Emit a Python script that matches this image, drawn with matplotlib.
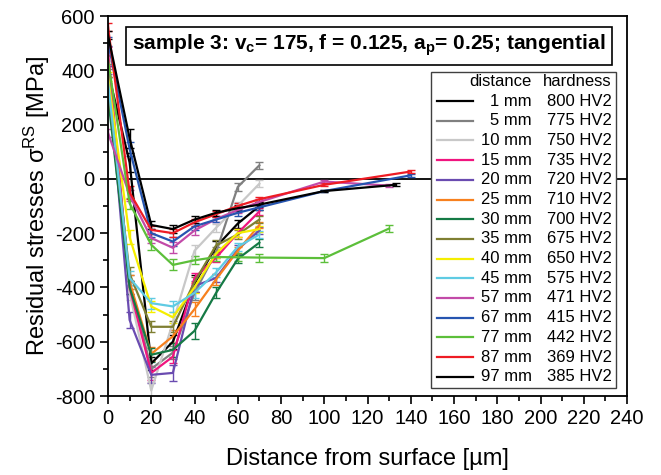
import matplotlib
matplotlib.use("Agg")
import matplotlib.pyplot as plt
from matplotlib.patches import Rectangle
from matplotlib.lines import Line2D
from matplotlib.ticker import MultipleLocator

plt.rcParams.update({
    "font.family": "Liberation Sans",
    "mathtext.fontset": "custom",
    "mathtext.rm": "Liberation Sans",
    "mathtext.bf": "Liberation Sans:bold",
    "mathtext.it": "Liberation Sans:italic",
    "axes.unicode_minus": False,
})

# distance of sample from the end face, and its hardness
distances = ["1 mm", "5 mm", "10 mm", "15 mm", "20 mm", "25 mm", "30 mm", "35 mm",
             "40 mm", "45 mm", "57 mm", "67 mm", "77 mm", "87 mm", "97 mm"]
hardness = ["800 HV2", "775 HV2", "750 HV2", "735 HV2", "720 HV2", "710 HV2", "700 HV2",
            "675 HV2", "650 HV2", "575 HV2", "471 HV2", "415 HV2", "442 HV2", "369 HV2",
            "385 HV2"]

# depth below surface [um]
depth_70 = [0, 10, 20, 30, 40, 50, 60, 70]
depth_57 = [0, 10, 20, 30, 40, 50, 60, 70, 100, 130]
depth_67 = [0, 10, 20, 30, 40, 50, 60, 70, 100, 140]
depth_77 = [0, 10, 20, 30, 40, 50, 60, 70, 100, 130]
depth_87 = [0, 10, 20, 30, 40, 50, 60, 70, 100, 140]
depth_97 = [0, 10, 20, 30, 40, 50, 60, 70, 100, 133]

# residual stress [MPa]
rs_1 = [395, 60, -680, -600, -385, -250, -165, -100]
rs_5 = [420, -380, -700, -640, -420, -270, -30, 50]
rs_10 = [450, -420, -780, -530, -265, -180, -100, -18]
rs_15 = [470, -400, -715, -655, -365, -290, -200, -120]
rs_20 = [400, -520, -722, -715, -395, -365, -260, -190]
rs_25 = [360, -380, -645, -580, -480, -370, -265, -170]
rs_30 = [303, -400, -648, -630, -560, -420, -295, -235]
rs_35 = [340, -350, -545, -545, -380, -245, -205, -150]
rs_40 = [377, -215, -470, -510, -400, -275, -200, -185]
rs_45 = [358, -365, -458, -470, -420, -345, -250, -205]
rs_57 = [170, -60, -218, -254, -190, -148, -115, -85, -10, -25]
rs_67 = [506, 110, -200, -231, -175, -150, -125, -105, -45, 13]
rs_77 = [438, -90, -243, -317, -300, -288, -289, -290, -292, -183]
rs_87 = [561, -50, -188, -200, -160, -130, -100, -75, -22, 27]
rs_97 = [530, 150, -170, -185, -150, -125, -108, -95, -45, -22]

# measurement scatter [MPa]
err_1 = [20, 35, 25, 25, 30, 20, 15, 15]
err_5 = [15, 25, 30, 25, 25, 20, 15, 12]
err_10 = [15, 25, 30, 25, 20, 15, 15, 12]
err_15 = [15, 25, 25, 25, 20, 15, 15, 12]
err_20 = [15, 30, 30, 30, 20, 15, 15, 12]
err_25 = [15, 25, 25, 25, 25, 20, 15, 12]
err_30 = [15, 25, 25, 25, 30, 20, 15, 15]
err_35 = [15, 25, 20, 20, 20, 20, 15, 12]
err_40 = [15, 25, 20, 20, 20, 15, 15, 12]
err_45 = [15, 25, 20, 20, 20, 15, 15, 12]
err_57 = [15, 20, 20, 20, 15, 12, 12, 10, 5, 5]
err_67 = [15, 25, 15, 15, 12, 10, 10, 10, 5, 5]
err_77 = [15, 20, 20, 20, 15, 15, 15, 15, 15, 12]
err_87 = [15, 25, 15, 15, 12, 10, 10, 10, 5, 5]
err_97 = [15, 35, 15, 15, 12, 10, 10, 10, 5, 5]

xs = [depth_70] * 10 + [depth_57, depth_67, depth_77, depth_87, depth_97]
ys = [rs_1, rs_5, rs_10, rs_15, rs_20, rs_25, rs_30, rs_35, rs_40, rs_45,
      rs_57, rs_67, rs_77, rs_87, rs_97]
errs = [err_1, err_5, err_10, err_15, err_20, err_25, err_30, err_35, err_40, err_45,
        err_57, err_67, err_77, err_87, err_97]

colors = ["#000000", "#808080", "#c8c8c8", "#f0157f", "#6a4bb0", "#f7801e", "#157a45",
          "#7f7f32", "#f5ee00", "#5fcbe3", "#c24aa8", "#2655b0", "#5cbf3a", "#ee1c24",
          "#000000"]

fig = plt.figure(figsize=(6.61, 4.75), dpi=100)
ax = fig.add_axes([108 / 661, 1 - 396 / 475, 519 / 661, 380 / 475])

ax.axhline(0, color="black", lw=1.3, zorder=1)

for x, y, e, c in zip(xs, ys, errs, colors):
    ax.errorbar(x, y, yerr=e, color=c, lw=1.6, elinewidth=1.0, capsize=3,
                capthick=1.0, zorder=2)

ax.set_xlim(0, 240)
ax.set_ylim(-800, 600)
ax.xaxis.set_major_locator(MultipleLocator(20))
ax.xaxis.set_minor_locator(MultipleLocator(10))
ax.yaxis.set_major_locator(MultipleLocator(200))
ax.yaxis.set_minor_locator(MultipleLocator(100))
ax.tick_params(which="major", direction="out", length=6, width=1.2, labelsize=14.5,
               top=False, right=False)
ax.tick_params(which="minor", direction="out", length=3.5, width=1.2,
               top=False, right=False)
for sp in ax.spines.values():
    sp.set_linewidth(1.3)

ax.set_xlabel("Distance from surface [µm]", fontsize=17, labelpad=14)
ax.set_ylabel(r"Residual stresses σ$^{\mathregular{RS}}$ [MPa]", fontsize=17, labelpad=2)

# title box
ax.text(0.503, 0.922,
        r"sample 3: v$_{\mathbf{c}}$= 175, f = 0.125, a$_{\mathbf{p}}$= 0.25; tangential",
        transform=ax.transAxes, ha="center", va="center", fontsize=15,
        fontweight="bold",
        bbox=dict(boxstyle="square,pad=0.3", fc="white", ec="black", lw=1.2))

# legend table drawn by hand
def ax_x(px):
    return (px - 108) / 519


def ax_y(py):
    return (396 - py) / 380


ax.add_patch(Rectangle((ax_x(431), ax_y(388)), ax_x(616) - ax_x(431),
                       ax_y(72) - ax_y(388), transform=ax.transAxes,
                       fc="white", ec="#404040", lw=1.0, zorder=5))
ax.text(ax_x(532), ax_y(81), "distance", transform=ax.transAxes, ha="right",
        va="center", fontsize=12, zorder=6)
ax.text(ax_x(612), ax_y(81), "hardness", transform=ax.transAxes, ha="right",
        va="center", fontsize=12, zorder=6)
for i, (d, h, c) in enumerate(zip(distances, hardness, colors)):
    py = 101 + i * 19.7
    ax.add_line(Line2D([ax_x(437), ax_x(473)], [ax_y(py), ax_y(py)],
                       transform=ax.transAxes, color=c, lw=1.6, zorder=6))
    ax.text(ax_x(532), ax_y(py), d, transform=ax.transAxes, ha="right",
            va="center", fontsize=12, zorder=6)
    ax.text(ax_x(612), ax_y(py), h, transform=ax.transAxes, ha="right",
            va="center", fontsize=12, zorder=6)

fig.savefig("out.png", dpi=100)
